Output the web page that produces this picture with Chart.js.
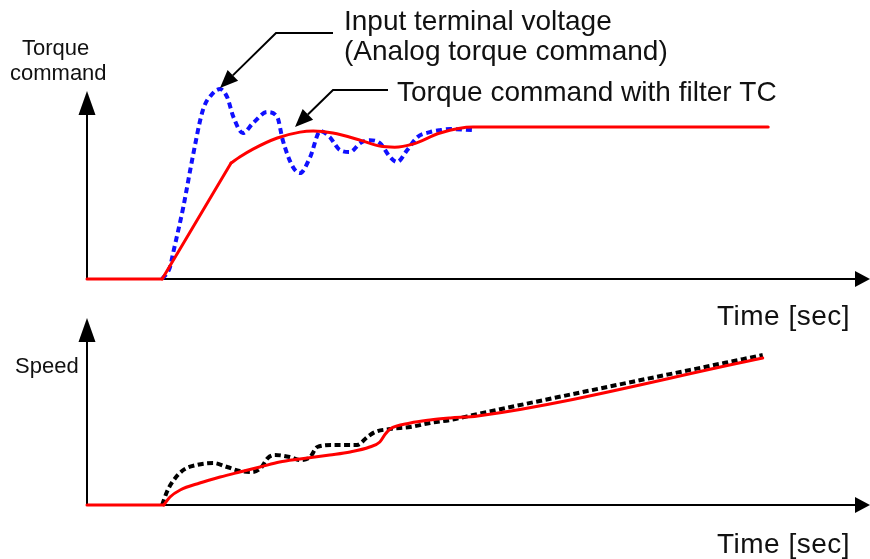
<!DOCTYPE html>
<html>
<head>
<meta charset="utf-8">
<script src="https://cdn.jsdelivr.net/npm/chart.js@4/dist/chart.umd.min.js"></script>
<style>
  html, body { margin: 0; padding: 0; background: #fff; }
  #wrap { position: relative; width: 870px; height: 559px; overflow: hidden; background: #fff; }
  canvas { position: absolute; left: 0; }
  #torqueChart { top: 0; }
  #speedChart { top: 300px; }
</style>
</head>
<body>
<div id="wrap">
  <canvas id="torqueChart" width="870" height="340"></canvas>
  <canvas id="speedChart" width="870" height="259"></canvas>
</div>
<script>
// ---- Torque command (steady-state command = 1.0) ----
const filteredTime   = [0, 9.6, 18.4, 19.5, 21.2, 24.3, 27.2, 28.9, 31.4, 34.9, 37.4, 39.3, 41.6, 45.1, 49.3, 87.0];
const filteredTorque = [0, 0, 0.763, 0.803, 0.855, 0.928, 0.967, 0.974, 0.961, 0.914, 0.875, 0.868, 0.888, 0.961, 1.0, 1.0];
const filteredStart = 1;   // index where the filtered command leaves zero
const filteredKnee = 2;    // index where the linear ramp ends

const inputTime    = [9.6, 10.6, 11.0, 12.3, 13.5, 14.8, 16.1, 17.0, 17.9, 18.7, 19.9, 21.2, 23.0, 24.3, 25.0, 26.3, 27.2,
                      28.5, 29.8, 31.0, 32.3, 33.6, 34.9, 36.1, 37.4, 38.7, 39.6, 40.9, 42.2, 43.8, 45.1, 46.4, 49.3];
const inputVoltage = [0, 0.079, 0.171, 0.474, 0.803, 1.112, 1.224, 1.25, 1.197, 1.066, 0.961, 1.026, 1.099, 1.066, 0.914, 0.737, 0.697,
                      0.803, 0.974, 0.934, 0.849, 0.836, 0.895, 0.914, 0.895, 0.803, 0.770, 0.849, 0.934, 0.967, 0.980, 0.987, 0.980];

// ---- Speed ----
const speedFilteredTime = [0, 9.8, 10.6, 11.9, 14.4, 17.0, 19.5, 22.1, 24.6, 27.2, 31.0, 33.6, 36.1, 37.4, 38.1, 38.7, 41.3, 43.8, 46.4, 49.9, 86.3];
const speedFiltered     = [0, 0, 0.08, 0.15, 0.22, 0.28, 0.33, 0.38, 0.43, 0.46, 0.50, 0.53, 0.58, 0.63, 0.71, 0.76, 0.82, 0.85, 0.87, 0.89, 1.47];
const speedFilteredStart = 1;

const speedInputTime = [9.6, 10.2, 10.9, 12.3, 14.0, 16.1, 17.9, 19.5, 21.1, 22.2, 23.1, 24.0, 25.9, 27.2, 28.5, 29.4, 31.4, 34.5,
                        35.8, 36.8, 38.7, 41.3, 43.8, 46.4, 49.9, 86.3];
const speedInput     = [0, 0.13, 0.23, 0.35, 0.40, 0.42, 0.38, 0.34, 0.33, 0.37, 0.47, 0.50, 0.48, 0.45, 0.48, 0.58, 0.60, 0.60,
                        0.68, 0.73, 0.76, 0.78, 0.82, 0.85, 0.91, 1.50];

// ---- Text ----
const torqueAxisTitle = ['Torque', 'command'];
const speedAxisTitle = 'Speed';
const timeAxisTitle = 'Time [sec]';
const inputLabel = ['Input terminal voltage', '(Analog torque command)'];
const filteredLabel = 'Torque command with filter TC';

const pts = (xs, ys, from = 0, to = xs.length - 1) =>
  xs.slice(from, to + 1).map((x, i) => ({ x, y: ys[from + i] }));

const RED = '#ff0000';
const BLUE = '#1010ff';
const INK = '#111111';
const ANNOT_FONT = '28px "Liberation Sans", Arial, sans-serif';
const LABEL_FONT = '22px "Liberation Sans", Arial, sans-serif';

// Draws arrow-headed axes under the data, and labels / leader arrows over it.
const diagramDecor = {
  id: 'diagramDecor',
  beforeDatasetsDraw(chart, args, opts) {
    const ctx = chart.ctx;
    const x0 = chart.scales.x.getPixelForValue(0);
    const y0 = chart.scales.y.getPixelForValue(0);
    const xEnd = chart.width;
    ctx.save();
    ctx.strokeStyle = '#000';
    ctx.fillStyle = '#000';
    ctx.lineWidth = 2;
    // vertical axis
    ctx.beginPath();
    ctx.moveTo(x0, y0);
    ctx.lineTo(x0, opts.yTip + 20);
    ctx.stroke();
    ctx.beginPath();
    ctx.moveTo(x0, opts.yTip);
    ctx.lineTo(x0 - 8.5, opts.yTip + 24);
    ctx.lineTo(x0 + 8.5, opts.yTip + 24);
    ctx.closePath();
    ctx.fill();
    // horizontal axis
    ctx.beginPath();
    ctx.moveTo(x0, y0);
    ctx.lineTo(xEnd - 12, y0);
    ctx.stroke();
    ctx.beginPath();
    ctx.moveTo(xEnd, y0);
    ctx.lineTo(xEnd - 15, y0 - 8);
    ctx.lineTo(xEnd - 15, y0 + 8);
    ctx.closePath();
    ctx.fill();
    ctx.restore();
  },
  afterDatasetsDraw(chart, args, opts) {
    const ctx = chart.ctx;
    ctx.save();
    ctx.textAlign = 'left';
    ctx.textBaseline = 'alphabetic';
    (opts.texts || []).forEach(t => {
      ctx.font = t.font;
      ctx.fillStyle = INK;
      ctx.letterSpacing = (t.spacing || 0) + 'px';
      ctx.fillText(t.text, t.x, t.y);
    });
    ctx.letterSpacing = '0px';
    (opts.leaders || []).forEach(l => {
      const p = l.path;
      ctx.strokeStyle = '#000';
      ctx.fillStyle = '#000';
      ctx.lineWidth = 2;
      const tip = p[p.length - 1];
      const prev = p[p.length - 2];
      const ang = Math.atan2(tip[1] - prev[1], tip[0] - prev[0]);
      const len = 18, half = 7.5;
      const bx = tip[0] - len * Math.cos(ang), by = tip[1] - len * Math.sin(ang);
      ctx.beginPath();
      ctx.moveTo(p[0][0], p[0][1]);
      for (let i = 1; i < p.length - 1; i++) ctx.lineTo(p[i][0], p[i][1]);
      ctx.lineTo(bx, by);
      ctx.stroke();
      ctx.beginPath();
      ctx.moveTo(tip[0], tip[1]);
      ctx.lineTo(bx + half * Math.sin(ang), by - half * Math.cos(ang));
      ctx.lineTo(bx - half * Math.sin(ang), by + half * Math.cos(ang));
      ctx.closePath();
      ctx.fill();
    });
    ctx.restore();
  }
};

function baseOptions(padding, yMax, decor) {
  return {
    responsive: false,
    animation: false,
    devicePixelRatio: 1,
    layout: { padding },
    scales: {
      x: { type: 'linear', min: 0, max: 100, display: false },
      y: { type: 'linear', min: 0, max: yMax, display: false }
    },
    elements: { point: { radius: 0 }, line: { clip: false } },
    plugins: {
      legend: { display: false },
      tooltip: { enabled: false },
      diagramDecor: decor
    }
  };
}

const redPiece = (data, smooth) => ({
  label: 'Torque command with filter TC',
  data,
  borderColor: RED, borderWidth: 3,
  borderCapStyle: 'round', borderJoinStyle: 'round',
  cubicInterpolationMode: smooth ? 'monotone' : 'default',
  tension: 0, clip: false
});

new Chart(document.getElementById('torqueChart'), {
  type: 'line',
  data: {
    datasets: [
      redPiece(pts(filteredTime, filteredTorque, 0, filteredStart), false),
      redPiece(pts(filteredTime, filteredTorque, filteredStart, filteredKnee), false),
      redPiece(pts(filteredTime, filteredTorque, filteredKnee), true),
      {
        label: 'Input terminal voltage',
        data: pts(inputTime, inputVoltage),
        borderColor: BLUE, borderWidth: 4,
        borderDash: [6, 4],
        cubicInterpolationMode: 'monotone', clip: false
      }
    ]
  },
  options: baseOptions({ left: 87, right: 0, top: 80, bottom: 61 }, 1.31, {
    yTip: 91,
    texts: [
      { text: torqueAxisTitle[0], x: 22, y: 55, font: LABEL_FONT },
      { text: torqueAxisTitle[1], x: 10, y: 80, font: LABEL_FONT },
      { text: inputLabel[0], x: 344, y: 30, font: ANNOT_FONT },
      { text: inputLabel[1], x: 344, y: 60, font: ANNOT_FONT },
      { text: filteredLabel, x: 397, y: 101, font: ANNOT_FONT },
      { text: timeAxisTitle, x: 717, y: 325, font: ANNOT_FONT, spacing: 0.5 }
    ],
    leaders: [
      { path: [[333, 33], [276, 33], [220, 88]] },
      { path: [[388, 90], [333, 90], [295, 127]] }
    ]
  }),
  plugins: [diagramDecor]
});

new Chart(document.getElementById('speedChart'), {
  type: 'line',
  data: {
    datasets: [
      {
        label: 'Speed (filtered command)',
        data: pts(speedFilteredTime, speedFiltered, 0, speedFilteredStart),
        borderColor: RED, borderWidth: 3, borderCapStyle: 'round', clip: false
      },
      {
        label: 'Speed (filtered command)',
        data: pts(speedFilteredTime, speedFiltered, speedFilteredStart),
        borderColor: RED, borderWidth: 3, borderCapStyle: 'round',
        cubicInterpolationMode: 'monotone', clip: false
      },
      {
        label: 'Speed (input command)',
        data: pts(speedInputTime, speedInput),
        borderColor: '#000', borderWidth: 4,
        borderDash: [6, 3.5],
        cubicInterpolationMode: 'monotone', clip: false
      }
    ]
  },
  options: baseOptions({ left: 87, right: 0, top: 15, bottom: 54 }, 1.9, {
    yTip: 18,
    texts: [
      { text: speedAxisTitle, x: 15, y: 73, font: LABEL_FONT },
      { text: timeAxisTitle, x: 717, y: 253, font: ANNOT_FONT, spacing: 0.5 }
    ],
    leaders: []
  }),
  plugins: [diagramDecor]
});
</script>
</body>
</html>
